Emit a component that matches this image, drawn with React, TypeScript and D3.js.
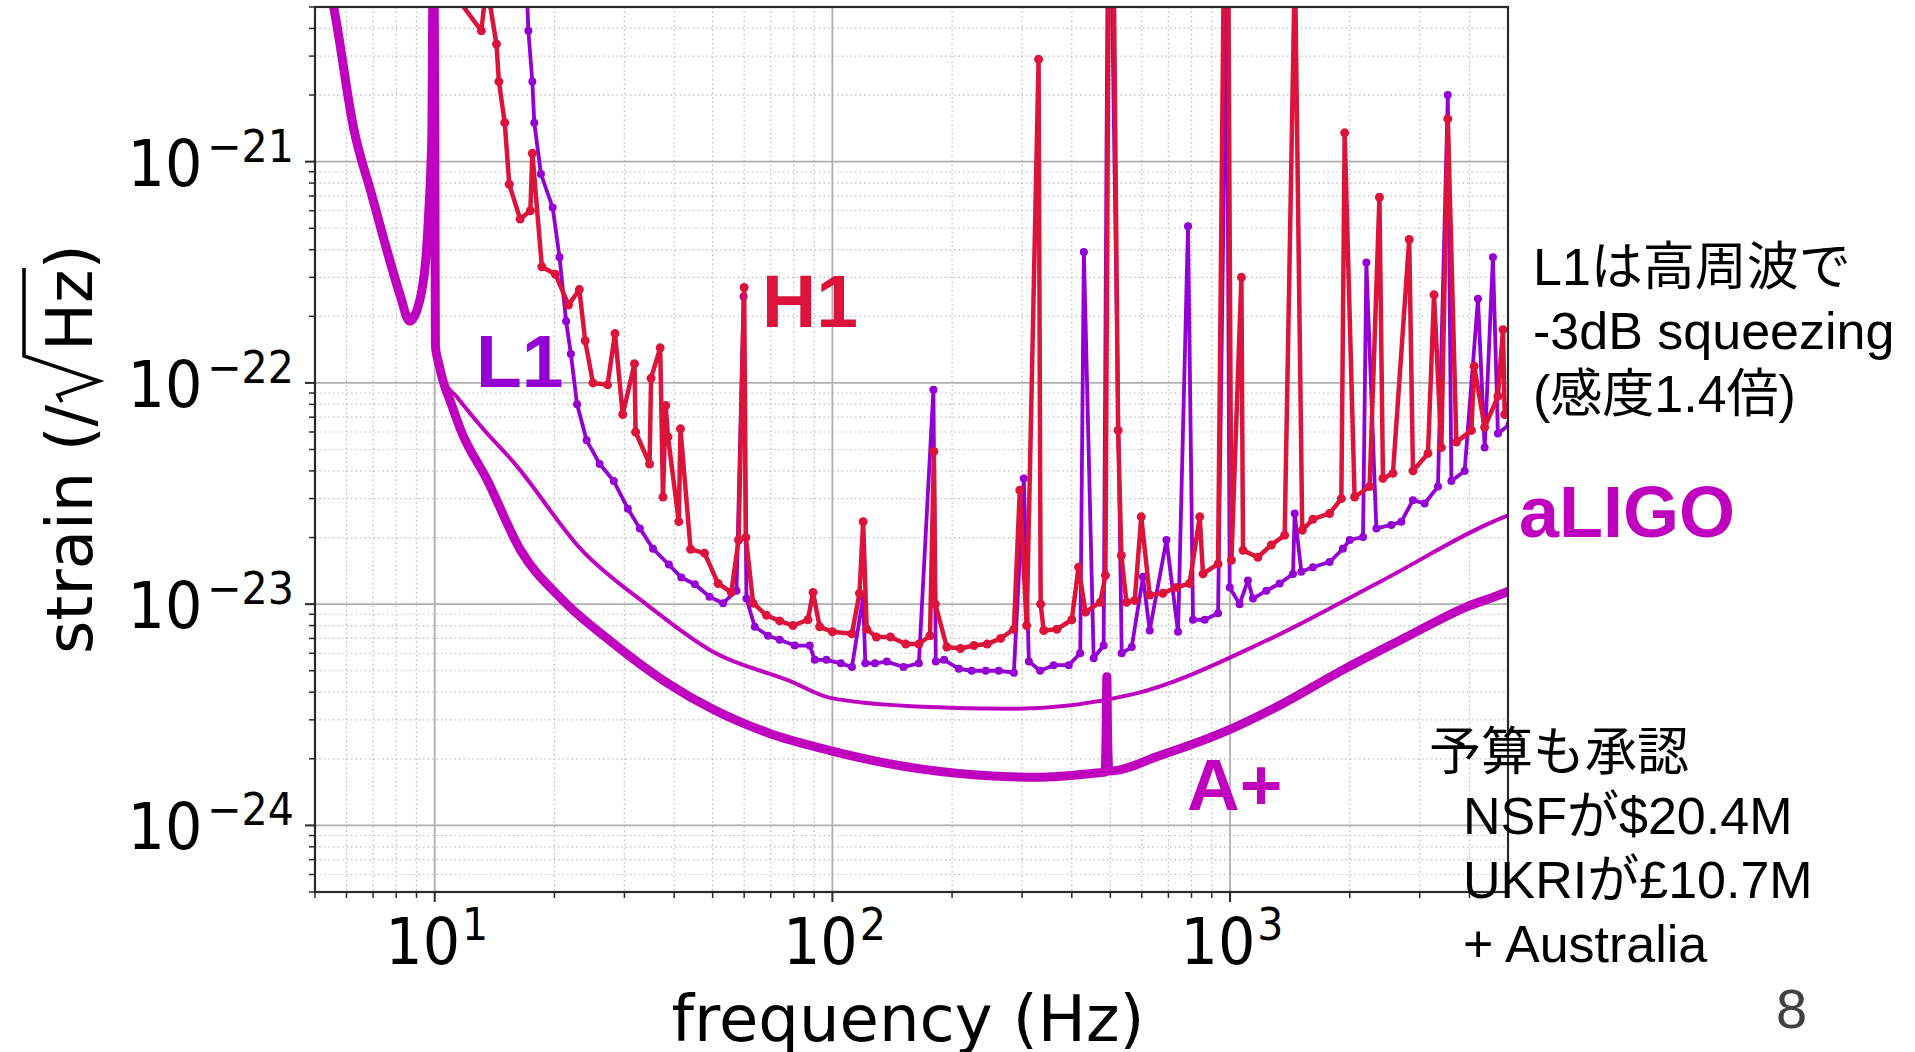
import React from 'react';
import * as d3 from 'd3';

// page + axes box (pixels of the 1915x1052 slide)
const W = 1915;
const H = 1052;
const plot = { left: 315, right: 1508, top: 7, bottom: 892 };

// design curves, frequency (Hz) / strain (1/sqrt(Hz))
const aplusFreq = [5.3, 5.57, 6.26, 6.96, 7.74, 8.2, 8.65, 9.03, 9.29, 9.48, 9.66, 9.79, 9.84, 9.9, 9.97, 10.01, 10.04, 10.23, 10.53, 10.95, 11.63, 13.55, 16.45, 20.8, 27.7, 38, 50.5, 69.3, 98.7, 151, 231, 329, 469, 485, 488, 490, 492, 496, 667, 950, 1353, 1927, 2745, 3910, 4935, 5100];
const aplusStrain = [7.5e-21, 5e-21, 1.4e-21, 6.98e-22, 3.48e-22, 2.46e-22, 1.9e-22, 2.14e-22, 2.64e-22, 3.49e-22, 5.88e-22, 9.9e-22, 1.4e-21, 6e-21, 6e-21, 1e-21, 1.46e-22, 1.23e-22, 1e-22, 8.25e-23, 6.12e-23, 3.64e-23, 1.75e-23, 1.06e-23, 6.8e-24, 4.46e-24, 3.32e-24, 2.61e-24, 2.18e-24, 1.85e-24, 1.69e-24, 1.65e-24, 1.73e-24, 1.74e-24, 2.6e-24, 4.7e-24, 2.6e-24, 1.76e-24, 2.07e-24, 2.61e-24, 3.54e-24, 5.06e-24, 7.03e-24, 9.68e-24, 1.13e-23, 1.16e-23];

const aligoFreq = [5.3, 5.6, 6.32, 7.0, 7.8, 8.24, 8.62, 9.03, 9.29, 9.48, 9.66, 9.79, 9.84, 9.9, 9.97, 10.01, 10.04, 10.23, 10.53, 11.36, 13.18, 15.84, 23.4, 34.2, 50.5, 78.1, 98.8, 162, 286, 571, 1236, 2417, 4898, 5100];
const aligoStrain = [7.6e-21, 5e-21, 1.44e-21, 7.2e-22, 3.65e-22, 2.6e-22, 2.02e-22, 2.22e-22, 2.72e-22, 3.58e-22, 6e-22, 1e-21, 1.45e-21, 6e-21, 6e-21, 1e-21, 1.5e-22, 1.26e-22, 1.03e-22, 8.65e-23, 6.25e-23, 4.35e-23, 1.76e-23, 9.93e-24, 6.04e-24, 4.5e-24, 3.77e-24, 3.45e-24, 3.37e-24, 3.92e-24, 6.85e-24, 1.28e-23, 2.48e-23, 2.55e-23];

// measured spectra
const l1Freq = [17.0, 17.2, 17.6, 17.8, 18.5, 19.8, 20.6, 21.4, 22.0, 22.8, 24.1, 26.0, 28.2, 30.6, 32.8, 35.4, 38.8, 41.7, 45.1, 49.1, 53.1, 57.4, 59.8, 60.8, 63.8, 68.9, 73.7, 80.4, 87.7, 90.3, 96.6, 105, 112, 119.5, 121, 128, 137, 151, 165, 179.5, 182, 191, 208, 224, 243, 262, 286, 303, 312, 333, 360, 393, 420, 429, 454, 481, 492, 504, 534, 566, 604, 628, 692, 740, 784, 807, 864, 933, 981, 998, 1057, 1109, 1142, 1234, 1333, 1440, 1454, 1511, 1616, 1780, 1922, 2000, 2160, 2202, 2333, 2544, 2696, 2884, 3086, 3333, 3529, 3602, 3890, 4202, 4368, 4582, 4717, 5048];
const l1Strain = [6.7e-21, 3.9e-21, 2.3e-21, 1.5e-21, 8.8e-22, 6.2e-22, 3.7e-22, 1.9e-22, 1.35e-22, 8.0e-23, 5.5e-23, 4.3e-23, 3.6e-23, 2.7e-23, 2.2e-23, 1.78e-23, 1.51e-23, 1.32e-23, 1.23e-23, 1.08e-23, 1.01e-23, 1.15e-23, 2.46e-22, 1.06e-23, 7.9e-24, 7.2e-24, 6.9e-24, 6.5e-24, 6.5e-24, 5.6e-24, 5.6e-24, 5.4e-24, 5.2e-24, 1.08e-23, 5.4e-24, 5.4e-24, 5.5e-24, 5.2e-24, 5.4e-24, 9.3e-23, 5.5e-24, 5.6e-24, 5.1e-24, 5.0e-24, 5.0e-24, 5.0e-24, 4.9e-24, 3.7e-23, 5.5e-24, 5.0e-24, 5.3e-24, 5.3e-24, 6.0e-24, 3.9e-22, 5.7e-24, 6.5e-24, 7e-21, 7e-21, 6.0e-24, 6.4e-24, 1.33e-23, 7.6e-24, 1.95e-23, 7.5e-24, 5.1e-22, 8.5e-24, 8.5e-24, 9.1e-24, 7e-21, 1.19e-23, 1.0e-23, 1.28e-23, 1.06e-23, 1.15e-23, 1.24e-23, 1.37e-23, 2.57e-23, 1.4e-23, 1.47e-23, 1.55e-23, 1.78e-23, 1.95e-23, 2.01e-23, 3.5e-22, 2.2e-23, 2.28e-23, 2.36e-23, 2.95e-23, 2.85e-23, 3.4e-23, 2.0e-21, 3.6e-23, 4.0e-23, 2.4e-22, 5.1e-23, 3.7e-22, 5.9e-23, 6.5e-23];

const h1Freq = [10.3, 13.1, 13.5, 14.3, 14.5, 15.0, 15.4, 16.4, 17.4, 17.6, 18.6, 20.1, 21.7, 23.1, 23.9, 25.0, 27.2, 28.4, 29.7, 31.8, 32.0, 34.7, 35.0, 36.9, 37.5, 38.1, 38.6, 41.1, 41.5, 44.0, 47.7, 51.6, 55.7, 58.1, 60.0, 60.6, 63.2, 68.3, 73.7, 79.6, 86.8, 89.4, 92.9, 100, 112, 117, 119.5, 122, 129, 140, 153, 165, 176, 180, 181.5, 194, 210, 227, 245, 265, 286, 296, 308, 330, 334, 340, 367, 400, 416, 433, 472, 486, 495, 510, 523, 533, 549, 576, 598, 628, 678, 733, 791, 839, 855, 933, 964, 990, 1008, 1068, 1078, 1175, 1270, 1372, 1456, 1519, 1616, 1780, 1905, 1942, 2057, 2244, 2375, 2424, 2568, 2822, 2884, 3146, 3258, 3399, 3529, 3708, 4045, 4111, 4368, 4717, 4857, 4905, 5048];
const h1Strain = [7.0e-21, 3.9e-21, 6.4e-21, 3.4e-21, 2.3e-21, 1.5e-21, 7.9e-22, 5.5e-22, 6.0e-22, 1.09e-21, 3.35e-22, 3.1e-22, 2.25e-22, 2.64e-22, 1.55e-22, 1.0e-22, 9.8e-23, 1.67e-22, 7.2e-23, 1.22e-22, 6.0e-23, 4.3e-23, 1.05e-22, 1.44e-22, 3.05e-23, 7.9e-23, 5.7e-23, 2.36e-23, 6.2e-23, 1.77e-23, 1.7e-23, 1.24e-23, 1.13e-23, 1.95e-23, 2.7e-22, 2.0e-23, 1.01e-23, 8.9e-24, 8.4e-24, 8.0e-24, 8.5e-24, 1.13e-23, 7.9e-24, 7.5e-24, 7.35e-24, 1.12e-23, 2.36e-23, 7.7e-24, 7.1e-24, 7.1e-24, 6.6e-24, 6.6e-24, 7.2e-24, 4.9e-23, 1.0e-23, 6.4e-24, 6.3e-24, 6.5e-24, 6.6e-24, 7.0e-24, 7.7e-24, 3.27e-23, 8.0e-24, 2.9e-21, 1.0e-23, 7.6e-24, 7.7e-24, 8.5e-24, 1.47e-23, 9.2e-24, 1.02e-23, 1.35e-23, 7e-21, 7e-21, 6.1e-23, 1.66e-23, 1.02e-23, 1.04e-23, 2.48e-23, 1.1e-23, 1.12e-23, 1.19e-23, 1.24e-23, 2.48e-23, 1.37e-23, 1.52e-23, 7e-21, 7e-21, 1.58e-23, 3.0e-22, 1.75e-23, 1.63e-23, 1.85e-23, 2.05e-23, 8e-21, 2.16e-23, 2.42e-23, 2.57e-23, 3.0e-23, 1.35e-21, 3.05e-23, 3.4e-23, 6.9e-22, 3.7e-23, 3.9e-23, 4.45e-22, 4.0e-23, 4.8e-23, 2.5e-22, 5.1e-23, 1.56e-21, 5.4e-23, 6.1e-23, 1.19e-22, 6.3e-23, 8.7e-23, 1.74e-22, 7.2e-23, 7.9e-23];

// tick labels
const xMajor = [10, 100, 1000];
const xTickExp = ['1', '2', '3'];
const yMajor = [1e-21, 1e-22, 1e-23, 1e-24];
const yTickExp = ['\u221221', '\u221222', '\u221223', '\u221224'];

// slide annotations
const noteTop = ['L1は高周波で', '-3dB squeezing', '(感度1.4倍)'];
const noteBudget = ['予算も承認', 'NSFが$20.4M', 'UKRIが£10.7M', '+ Australia'];

const MAGENTA = '#bf00bf';
const PURPLE = '#9400d3';
const RED = '#dc143c';
const mplFont = "'DejaVu Sans', sans-serif";
const slideFont = "'Liberation Sans', Arial, 'Noto Sans CJK JP', sans-serif";
const SQ = 0.92; // tick labels look a bit squeezed sideways

const zip = (f: number[], s: number[]) => f.map((v, i) => [v, s[i]] as [number, number]);

export default function App() {
  const x = d3.scaleLog().domain([5, 5000]).range([plot.left, plot.right]);
  const y = d3.scaleLog().domain([5e-25, 5e-21]).range([plot.bottom, plot.top]);

  const isMajor = (v: number) => Math.abs(Math.log10(v) - Math.round(Math.log10(v))) < 1e-6;
  const xTicks = x.ticks();
  const yTicks = y.ticks();
  const xMinorGrid = xTicks.filter(v => !isMajor(v) && v > 5.01 && v < 4990);
  const yMinorGrid = yTicks.filter(v => !isMajor(v) && v > 5.01e-25 && v < 4.99e-21);

  const smooth = d3.line<[number, number]>().x(d => x(d[0])).y(d => y(d[1])).curve(d3.curveMonotoneX);
  const straight = d3.line<[number, number]>().x(d => x(d[0])).y(d => y(d[1]));

  const aplus = zip(aplusFreq, aplusStrain);
  const aligo = zip(aligoFreq, aligoStrain);
  const l1 = zip(l1Freq, l1Strain);
  const h1 = zip(h1Freq, h1Strain);

  return (
    <svg width={W} height={H} style={{ position: 'absolute', left: 0, top: 0, background: '#fff' }}>
      <defs>
        <clipPath id="plotClip">
          <rect x={plot.left} y={plot.top} width={plot.right - plot.left} height={plot.bottom - plot.top} />
        </clipPath>
      </defs>
      <rect width={W} height={H} fill="#fff" />

      {/* grid */}
      <g>
        {xMinorGrid.map(v => (
          <line key={'xm' + v} x1={x(v)} x2={x(v)} y1={plot.top} y2={plot.bottom} stroke="#bdbdbd" strokeWidth={1.2} strokeDasharray="1.5,3" />
        ))}
        {yMinorGrid.map(v => (
          <line key={'ym' + v} x1={plot.left} x2={plot.right} y1={y(v)} y2={y(v)} stroke="#bdbdbd" strokeWidth={1.2} strokeDasharray="1.5,3" />
        ))}
        {xMajor.map(v => (
          <line key={'xM' + v} x1={x(v)} x2={x(v)} y1={plot.top} y2={plot.bottom} stroke="#b0b0b0" strokeWidth={1.8} />
        ))}
        {yMajor.map(v => (
          <line key={'yM' + v} x1={plot.left} x2={plot.right} y1={y(v)} y2={y(v)} stroke="#b0b0b0" strokeWidth={1.8} />
        ))}
      </g>

      {/* curves */}
      <g clipPath="url(#plotClip)" fill="none" strokeLinejoin="round" strokeLinecap="round">
        <path d={smooth(aplus) || ''} stroke={MAGENTA} strokeWidth={9} />
        <path d={smooth(aligo) || ''} stroke={MAGENTA} strokeWidth={4} />
        <path d={straight(l1) || ''} stroke={PURPLE} strokeWidth={3.8} />
        <g fill={PURPLE}>
          {l1.map((d, i) => <circle key={'l' + i} cx={x(d[0])} cy={y(d[1])} r={4} />)}
        </g>
        <path d={straight(h1) || ''} stroke={RED} strokeWidth={4.5} />
        <g fill={RED}>
          {h1.map((d, i) => <circle key={'h' + i} cx={x(d[0])} cy={y(d[1])} r={4.5} />)}
        </g>
      </g>

      {/* spines */}
      <rect x={plot.left} y={plot.top} width={plot.right - plot.left} height={plot.bottom - plot.top} fill="none" stroke="#2a2a2a" strokeWidth={2.2} />

      {/* ticks */}
      <g stroke="#2a2a2a">
        {xTicks.map(v => {
          const m = isMajor(v);
          return <line key={'xt' + v} x1={x(v)} x2={x(v)} y1={plot.bottom} y2={plot.bottom + (m ? 10 : 6)} strokeWidth={m ? 2 : 1.5} />;
        })}
        {yTicks.map(v => {
          const m = isMajor(v);
          return <line key={'yt' + v} x1={plot.left} x2={plot.left - (m ? 10 : 6)} y1={y(v)} y2={y(v)} strokeWidth={m ? 2 : 1.5} />;
        })}
      </g>

      {/* tick labels */}
      <g fontFamily={mplFont} fill="#000">
        {xMajor.map((v, i) => (
          <g key={'xl' + v} transform={`translate(${x(v) + 2},964) scale(${SQ},1)`}>
            <text textAnchor="middle" fontSize={64}>
              10<tspan dx={2} dy={-24} fontSize={44.8}>{xTickExp[i]}</tspan>
            </text>
          </g>
        ))}
        {yMajor.map((v, i) => (
          <g key={'yl' + v} transform={`translate(294,${y(v) + 24}) scale(${SQ},1)`}>
            <text textAnchor="end" fontSize={64}>
              10<tspan dx={5} dy={-24} fontSize={44.8}>{yTickExp[i]}</tspan>
            </text>
          </g>
        ))}
      </g>

      {/* axis labels */}
      <g fontFamily={mplFont} fill="#000">
        <text x={908} y={1041} textAnchor="middle" fontSize={64}>frequency (Hz)</text>
        <g transform="translate(92,449) rotate(-90)">
          <text x={-205} y={0} fontSize={64}>strain (/</text>
          <path d="M 47 -30 L 54 -34 L 68 7 L 93 -68 L 181 -68" fill="none" stroke="#000" strokeWidth={3.5} />
          <text x={98} y={0} fontSize={64}>Hz)</text>
        </g>
      </g>

      {/* curve names */}
      <g fontFamily={slideFont} fontWeight="bold">
        <text x={476} y={387} fontSize={75} fill={PURPLE}>L1</text>
        <text x={762} y={327} fontSize={75} fill={RED}>H1</text>
        <text x={1519} y={537} fontSize={72} fill={MAGENTA}>aLIGO</text>
        <text x={1187} y={810} fontSize={73} fill={MAGENTA}>A+</text>
      </g>

      {/* notes */}
      <g fontFamily={slideFont} fill="#000" fontSize={52}>
        {noteTop.map((t, i) => (
          <text key={'nt' + i} x={1533} y={285 + i * 63.5}>{t}</text>
        ))}
        {noteBudget.map((t, i) => (
          <text key={'nb' + i} x={i === 0 ? 1429 : 1463} y={770 + i * 64}>{t}</text>
        ))}
      </g>
      <text x={1776} y={1028} fontFamily={slideFont} fontSize={56} fill="#404040">8</text>
    </svg>
  );
}
